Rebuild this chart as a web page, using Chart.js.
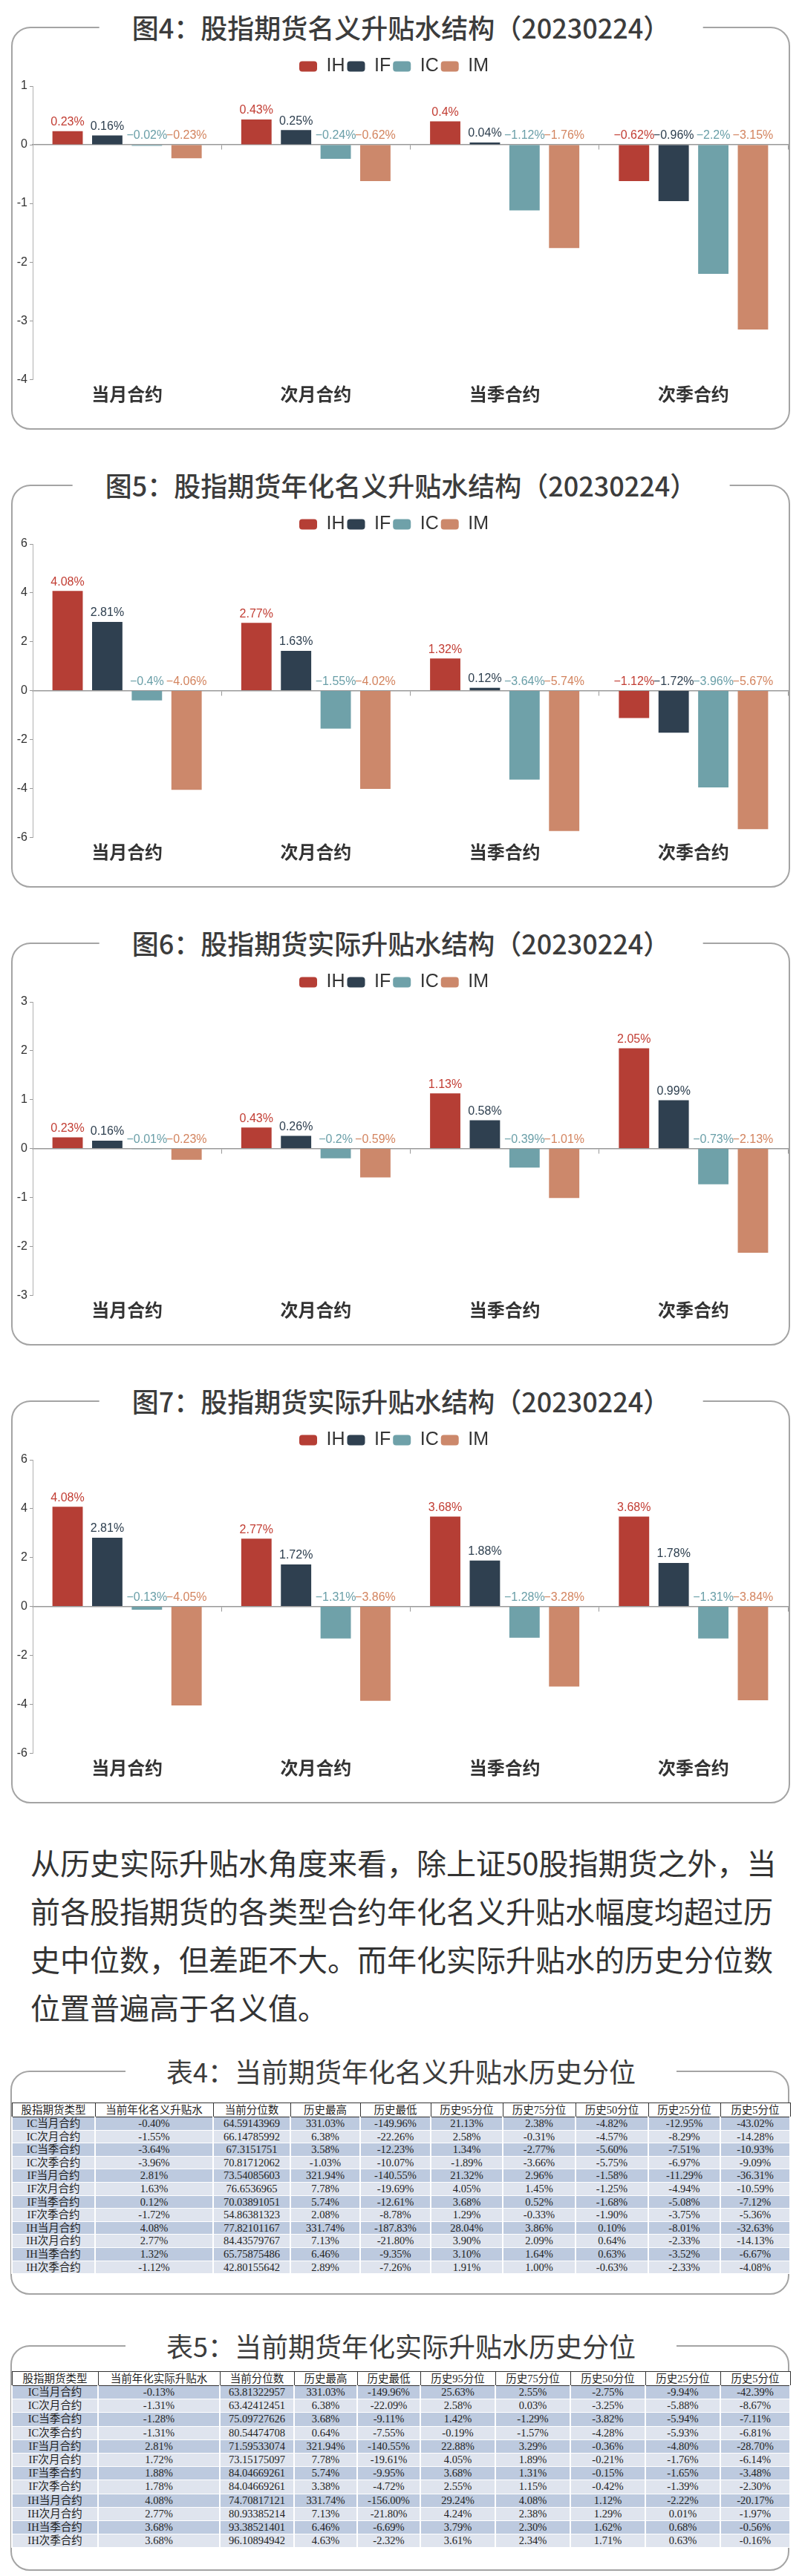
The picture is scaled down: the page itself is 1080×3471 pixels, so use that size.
<!DOCTYPE html>
<html>
<head>
<meta charset="utf-8">
<script src="https://cdn.jsdelivr.net/npm/chart.js@4.4.1/dist/chart.umd.min.js"></script>
<style>
body { margin: 0; width: 1080px; height: 3471px; background: #fff; position: relative; font-family: "Noto Sans CJK SC", sans-serif; color: #333; }
.frame { position: absolute; left: 15px; width: 1049px; box-sizing: border-box; border: 2px solid #a4a4a4; border-radius: 26px; }
.ttl { position: absolute; left: 540px; transform: translate(-50%, -50%); background: #fff; white-space: nowrap; line-height: 1; color: #3c3c3c; }
.ctitle { font-size: 36px; font-weight: 500; padding: 0 44px; }
.ttitle { font-size: 36px; padding: 0 55px; }
canvas { position: absolute; left: 0; }
.para { position: absolute; left: 41px; top: 2477px; font-size: 40px; line-height: 65px; color: #333; white-space: nowrap; }
table { position: absolute; left: 15px; border-collapse: collapse; table-layout: fixed; font-family: "Liberation Serif", "Noto Sans CJK SC", serif; font-size: 14.5px; color: #1e1e1e; }
th { border: 1px solid #333; background: #fff; font-weight: normal; padding: 0; height: 18px; line-height: 18px; }
td { text-align: center; padding: 0; border-left: 2px solid #fff; border-right: 2px solid #fff; border-top: 1px solid #fff; border-bottom: 1px solid #fff; white-space: nowrap; }
tr.d td { background: #bdcadf; }
tr.l td { background: #dfe4ee; }
</style>
</head>
<body>
<div id="page"></div>
<script>
// 分类与系列
var categories = ['当月合约', '次月合约', '当季合约', '次季合约'];
var seriesNames = ['IH', 'IF', 'IC', 'IM'];

// 图4 名义升贴水
var nominalIH = [0.23, 0.43, 0.4, -0.62];
var nominalIF = [0.16, 0.25, 0.04, -0.96];
var nominalIC = [-0.02, -0.24, -1.12, -2.2];
var nominalIM = [-0.23, -0.62, -1.76, -3.15];
var nominalTicks = [-4, 1, 1];

// 图5 年化名义升贴水
var annNominalIH = [4.08, 2.77, 1.32, -1.12];
var annNominalIF = [2.81, 1.63, 0.12, -1.72];
var annNominalIC = [-0.4, -1.55, -3.64, -3.96];
var annNominalIM = [-4.06, -4.02, -5.74, -5.67];
var annNominalTicks = [-6, 6, 2];

// 图6 实际升贴水
var realIH = [0.23, 0.43, 1.13, 2.05];
var realIF = [0.16, 0.26, 0.58, 0.99];
var realIC = [-0.01, -0.2, -0.39, -0.73];
var realIM = [-0.23, -0.59, -1.01, -2.13];
var realTicks = [-3, 3, 1];

// 图7 实际升贴水（年化）
var annRealIH = [4.08, 2.77, 3.68, 3.68];
var annRealIF = [2.81, 1.72, 1.88, 1.78];
var annRealIC = [-0.13, -1.31, -1.28, -1.31];
var annRealIM = [-4.05, -3.86, -3.28, -3.84];
var annRealTicks = [-6, 6, 2];

// 表4 / 表5
var table4Head = ['股指期货类型', '当前年化名义升贴水', '当前分位数', '历史最高', '历史最低', '历史95分位', '历史75分位', '历史50分位', '历史25分位', '历史5分位'];
var table4Rows = [
    ['IC当月合约', '-0.40%', '64.59143969', '331.03%', '-149.96%', '21.13%', '2.38%', '-4.82%', '-12.95%', '-43.02%'],
    ['IC次月合约', '-1.55%', '66.14785992', '6.38%', '-22.26%', '2.58%', '-0.31%', '-4.57%', '-8.29%', '-14.28%'],
    ['IC当季合约', '-3.64%', '67.3151751', '3.58%', '-12.23%', '1.34%', '-2.77%', '-5.60%', '-7.51%', '-10.93%'],
    ['IC次季合约', '-3.96%', '70.81712062', '-1.03%', '-10.07%', '-1.89%', '-3.66%', '-5.75%', '-6.97%', '-9.09%'],
    ['IF当月合约', '2.81%', '73.54085603', '321.94%', '-140.55%', '21.32%', '2.96%', '-1.58%', '-11.29%', '-36.31%'],
    ['IF次月合约', '1.63%', '76.6536965', '7.78%', '-19.69%', '4.05%', '1.45%', '-1.25%', '-4.94%', '-10.59%'],
    ['IF当季合约', '0.12%', '70.03891051', '5.74%', '-12.61%', '3.68%', '0.52%', '-1.68%', '-5.08%', '-7.12%'],
    ['IF次季合约', '-1.72%', '54.86381323', '2.08%', '-8.78%', '1.29%', '-0.33%', '-1.90%', '-3.75%', '-5.36%'],
    ['IH当月合约', '4.08%', '77.82101167', '331.74%', '-187.83%', '28.04%', '3.86%', '0.10%', '-8.01%', '-32.63%'],
    ['IH次月合约', '2.77%', '84.43579767', '7.13%', '-21.80%', '3.90%', '2.09%', '0.64%', '-2.33%', '-14.13%'],
    ['IH当季合约', '1.32%', '65.75875486', '6.46%', '-9.35%', '3.10%', '1.64%', '0.63%', '-3.52%', '-6.67%'],
    ['IH次季合约', '-1.12%', '42.80155642', '2.89%', '-7.26%', '1.91%', '1.00%', '-0.63%', '-2.33%', '-4.08%']
];
var table5Head = ['股指期货类型', '当前年化实际升贴水', '当前分位数', '历史最高', '历史最低', '历史95分位', '历史75分位', '历史50分位', '历史25分位', '历史5分位'];
var table5Rows = [
    ['IC当月合约', '-0.13%', '63.81322957', '331.03%', '-149.96%', '25.63%', '2.55%', '-2.75%', '-9.94%', '-42.39%'],
    ['IC次月合约', '-1.31%', '63.42412451', '6.38%', '-22.09%', '2.58%', '0.03%', '-3.25%', '-5.88%', '-8.67%'],
    ['IC当季合约', '-1.28%', '75.09727626', '3.68%', '-9.11%', '1.42%', '-1.29%', '-3.82%', '-5.94%', '-7.11%'],
    ['IC次季合约', '-1.31%', '80.54474708', '0.64%', '-7.55%', '-0.19%', '-1.57%', '-4.28%', '-5.93%', '-6.81%'],
    ['IF当月合约', '2.81%', '71.59533074', '321.94%', '-140.55%', '22.88%', '3.29%', '-0.36%', '-4.80%', '-28.70%'],
    ['IF次月合约', '1.72%', '73.15175097', '7.78%', '-19.61%', '4.05%', '1.89%', '-0.21%', '-1.76%', '-6.14%'],
    ['IF当季合约', '1.88%', '84.04669261', '5.74%', '-9.95%', '3.68%', '1.31%', '-0.15%', '-1.65%', '-3.48%'],
    ['IF次季合约', '1.78%', '84.04669261', '3.38%', '-4.72%', '2.55%', '1.15%', '-0.42%', '-1.39%', '-2.30%'],
    ['IH当月合约', '4.08%', '74.70817121', '331.74%', '-156.00%', '29.24%', '4.08%', '1.12%', '-2.22%', '-20.17%'],
    ['IH次月合约', '2.77%', '80.93385214', '7.13%', '-21.80%', '4.24%', '2.38%', '1.29%', '0.01%', '-1.97%'],
    ['IH当季合约', '3.68%', '93.38521401', '6.46%', '-6.69%', '3.79%', '2.30%', '1.62%', '0.68%', '-0.56%'],
    ['IH次季合约', '3.68%', '96.10894942', '4.63%', '-2.32%', '3.61%', '2.34%', '1.71%', '0.63%', '-0.16%']
];

var barColors = ['#b53e35', '#2f4050', '#6fa1a9', '#cc886b'];
var labelColors = ['#c23d33', '#2f4050', '#6a9fa8', '#d3845f'];

var page = document.getElementById('page');

// 柱子上的数值标签
var valueLabels = {
    id: 'valueLabels',
    beforeInit: function(chart) {
        var fit = chart.legend.fit;
        chart.legend.fit = function() {
            fit.call(this);
            this.height += 4;
        };
    },
    afterDatasetsDraw: function(chart) {
        var ctx = chart.ctx;
        var zero = chart.scales.y.getPixelForValue(0);
        ctx.save();
        ctx.font = '16px "Liberation Sans", Arial, sans-serif';
        ctx.textAlign = 'center';
        ctx.textBaseline = 'bottom';
        chart.data.datasets.forEach(function(ds, i) {
            var meta = chart.getDatasetMeta(i);
            ctx.fillStyle = labelColors[i];
            meta.data.forEach(function(bar, j) {
                var v = ds.data[j];
                var y = v >= 0 ? bar.y : zero;
                ctx.fillText(String(v).replace('-', '\u2212') + '%', bar.x, y - 4);
            });
        });
        ctx.restore();
    }
};

function addChart(top, title, data, ticks) {
    var frame = document.createElement('div');
    frame.className = 'frame';
    frame.style.top = top + 'px';
    frame.style.height = '543px';
    document.body.appendChild(frame);

    var canvas = document.createElement('canvas');
    canvas.width = 1080;
    canvas.height = 476;
    canvas.style.top = (top + 38) + 'px';
    document.body.appendChild(canvas);

    var t = document.createElement('div');
    t.className = 'ttl ctitle';
    t.style.top = top + 'px';
    t.textContent = title;
    document.body.appendChild(t);

    var datasets = [];
    for (var i = 0; i < seriesNames.length; i++) {
        datasets.push({
            label: seriesNames[i],
            data: data[i],
            backgroundColor: barColors[i],
            borderWidth: 0,
            categoryPercentage: 0.84,
            barPercentage: 0.765
        });
    }

    new Chart(canvas.getContext('2d'), {
        type: 'bar',
        data: { labels: categories, datasets: datasets },
        options: {
            responsive: false,
            animation: false,
            devicePixelRatio: 1,
            layout: { padding: { left: 0, right: 19, top: 0, bottom: 0 } },
            plugins: {
                legend: {
                    position: 'top',
                    labels: {
                        boxWidth: 24, boxHeight: 14, padding: 3,
                        useBorderRadius: true, borderRadius: 4,
                        color: '#333',
                        font: { size: 25, family: '"Liberation Sans", Arial, sans-serif' }
                    }
                },
                tooltip: { enabled: false }
            },
            scales: {
                x: {
                    position: { y: 0 },
                    offset: true,
                    grid: { offset: true, drawOnChartArea: false, drawTicks: true, tickLength: 6, color: '#999' },
                    border: { color: '#999', width: 1.5 },
                    ticks: { display: false }
                },
                x2: {
                    type: 'category',
                    labels: categories,
                    position: 'bottom',
                    offset: true,
                    grid: { display: false, drawTicks: false },
                    border: { display: false },
                    ticks: { padding: 5, color: '#333', font: { size: 24, weight: 'bold', family: '"Noto Sans CJK SC", sans-serif' } }
                },
                y: {
                    min: ticks[0],
                    max: ticks[1],
                    ticks: { stepSize: ticks[2], padding: 3, color: '#333', font: { size: 16, family: '"Liberation Sans", Arial, sans-serif' } },
                    grid: { drawOnChartArea: false, tickLength: 4, color: '#999' },
                    border: { color: '#b0b0b0' },
                    afterFit: function(s) { s.width = 44; }
                }
            }
        },
        plugins: [valueLabels]
    });
}

function addTable(top, frameTop, frameH, title, head, rows, widths, rowH) {
    var frame = document.createElement('div');
    frame.className = 'frame';
    frame.style.left = '14px';
    frame.style.top = frameTop + 'px';
    frame.style.height = frameH + 'px';
    document.body.appendChild(frame);

    var t = document.createElement('div');
    t.className = 'ttl ttitle';
    t.style.top = frameTop + 'px';
    t.textContent = title;
    document.body.appendChild(t);

    var table = document.createElement('table');
    table.style.top = top + 'px';
    var total = 0;
    var cg = document.createElement('colgroup');
    widths.forEach(function(w) {
        var c = document.createElement('col');
        c.style.width = w + 'px';
        cg.appendChild(c);
        total += w;
    });
    table.style.width = total + 'px';
    table.appendChild(cg);
    var tr = document.createElement('tr');
    head.forEach(function(h) {
        var th = document.createElement('th');
        th.textContent = h;
        tr.appendChild(th);
    });
    table.appendChild(tr);
    rows.forEach(function(r, i) {
        var row = document.createElement('tr');
        row.className = i % 2 == 0 ? 'd' : 'l';
        r.forEach(function(v) {
            var td = document.createElement('td');
            td.textContent = v;
            td.style.height = (rowH - 2) + 'px';
            td.style.lineHeight = (rowH - 2) + 'px';
            row.appendChild(td);
        });
        table.appendChild(row);
    });
    document.body.appendChild(table);
}

addChart(36, '图4：股指期货名义升贴水结构（20230224）', [nominalIH, nominalIF, nominalIC, nominalIM], nominalTicks);
addChart(653, '图5：股指期货年化名义升贴水结构（20230224）', [annNominalIH, annNominalIF, annNominalIC, annNominalIM], annNominalTicks);
addChart(1270, '图6：股指期货实际升贴水结构（20230224）', [realIH, realIF, realIC, realIM], realTicks);
addChart(1887, '图7：股指期货实际升贴水结构（20230224）', [annRealIH, annRealIF, annRealIC, annRealIM], annRealTicks);

var para = document.createElement('div');
para.className = 'para';
para.innerHTML = '从历史实际升贴水角度来看，除上证50股指期货之外，当<br>前各股指期货的各类型合约年化名义升贴水幅度均超过历<br>史中位数，但差距不大。而年化实际升贴水的历史分位数<br>位置普遍高于名义值。';
document.body.appendChild(para);

addTable(2833, 2790, 302, '表4：当前期货年化名义升贴水历史分位', table4Head, table4Rows,
    [112, 159, 104, 94, 95, 97, 98, 98, 97, 94], 18.6);
addTable(3195, 3160, 304, '表5：当前期货年化实际升贴水历史分位', table5Head, table5Rows,
    [116, 164, 100, 85, 85, 101, 101, 101, 101, 94], 19.2);
</script>
</body>
</html>
